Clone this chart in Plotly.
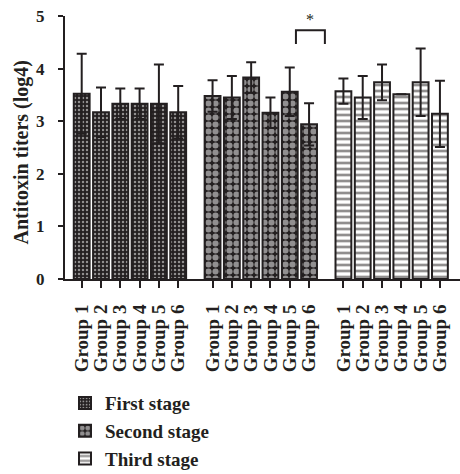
import plotly.graph_objects as go

groups = ["Group 1", "Group 2", "Group 3", "Group 4", "Group 5", "Group 6"]
stages = ["First stage", "Second stage", "Third stage"]

first_mean = [3.52, 3.17, 3.33, 3.33, 3.33, 3.17]
first_err = [0.76, 0.47, 0.29, 0.29, 0.75, 0.50]
second_mean = [3.48, 3.45, 3.83, 3.16, 3.56, 2.94]
second_err = [0.30, 0.41, 0.29, 0.29, 0.46, 0.40]
third_mean = [3.57, 3.45, 3.74, 3.51, 3.74, 3.14]
third_err = [0.24, 0.41, 0.34, 0.0, 0.64, 0.63]

stage_offsets = [0.0, 6.78, 13.56]

# significance annotation (data units)
sig_x = [11.1, 12.6]
sig_top = 4.73
sig_foot = 4.47
sig_label = "*"

INK = "#231f20"
FONT = "Liberation Serif"

patterns = [
    dict(shape=".", bgcolor=INK, fgcolor="white", size=4, solidity=0.3),
    dict(shape=".", bgcolor=INK, fgcolor="white", size=7, solidity=0.6),
    dict(shape="-", bgcolor="white", fgcolor=INK, size=6, solidity=0.45),
]

means = [first_mean, second_mean, third_mean]
errs = [first_err, second_err, third_err]

fig = go.Figure()
tickvals = []
ticktext = []
for s, name in enumerate(stages):
    xs = [stage_offsets[s] + i for i in range(len(groups))]
    tickvals += xs
    ticktext += groups
    fig.add_trace(go.Bar(
        x=xs, y=means[s], name=name, width=0.82,
        marker=dict(color=patterns[s]["bgcolor"], line=dict(color=INK, width=2),
                    pattern=patterns[s]),
        error_y=dict(type="data", array=errs[s], visible=True, color=INK,
                     thickness=2, width=5),
    ))

fig.add_shape(type="path", xref="x", yref="y",
              path=f"M{sig_x[0]},{sig_foot} L{sig_x[0]},{sig_top} L{sig_x[1]},{sig_top} L{sig_x[1]},{sig_foot}",
              line=dict(color=INK, width=2))
fig.add_annotation(x=(sig_x[0] + sig_x[1]) / 2, y=sig_top, xref="x", yref="y",
                   text=sig_label, showarrow=False, yanchor="bottom", yshift=0,
                   font=dict(family=FONT, size=16, color=INK))

fig.add_annotation(x=-0.109, y=0.481, xref="paper", yref="paper",
                   xanchor="center", yanchor="middle",
                   text="Antitoxin titers (log4)", textangle=-90, showarrow=False,
                   font=dict(family=FONT, size=20, color=INK, weight="bold"))

fig.update_layout(
    width=460, height=474,
    margin=dict(l=65, r=0, t=16, b=195, autoexpand=False),
    paper_bgcolor="white", plot_bgcolor="white",
    barmode="overlay",
    showlegend=True,
    legend=dict(x=0.0, y=-0.40, xanchor="left", yanchor="top",
                font=dict(family=FONT, size=19, color=INK, weight="bold"),
                tracegroupgap=0, itemsizing="constant"),
    xaxis=dict(range=[-0.865, 19.6], tickmode="array", tickvals=tickvals, ticktext=ticktext,
               tickangle=-90, ticks="outside", ticklen=7, tickwidth=2, tickcolor=INK,
               showline=True, linecolor=INK, linewidth=2, showgrid=False, zeroline=False,
               tickfont=dict(family=FONT, size=19, color=INK, weight="bold"),
               ticklabelstandoff=9),
    yaxis=dict(range=[0, 5], tickvals=[0, 1, 2, 3, 4, 5], ticks="outside", ticklen=5,
               tickwidth=2, tickcolor=INK, showline=True, linecolor=INK, linewidth=2,
               showgrid=False, zeroline=False,
               tickfont=dict(family=FONT, size=17, color=INK, weight="bold"),
               ticklabelstandoff=10),
)

fig.write_html("out.html")
